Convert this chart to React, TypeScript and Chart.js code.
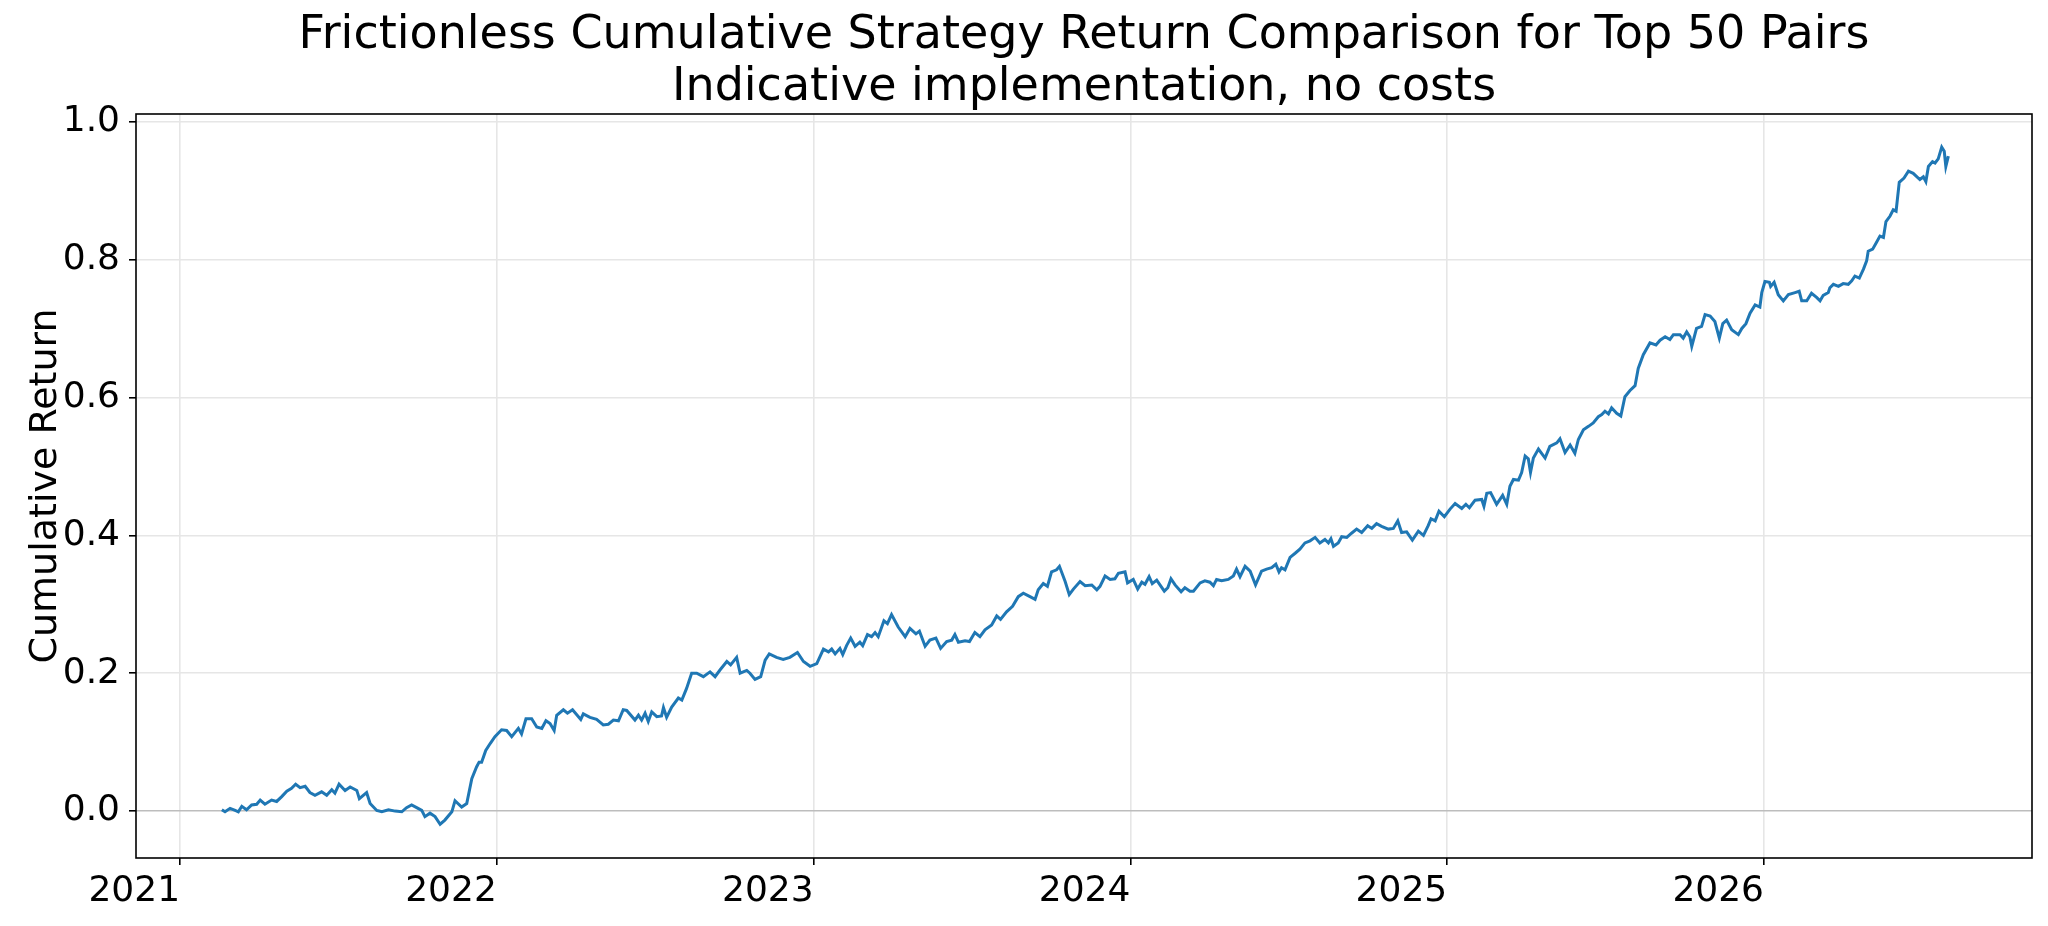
import React, { useEffect, useRef } from "react";
import { Chart, registerables } from "chart.js";

Chart.register(...registerables);

const titleLines = [
  "Frictionless Cumulative Strategy Return Comparison for Top 50 Pairs",
  "Indicative implementation, no costs",
];
const yAxisLabel = "Cumulative Return";

const yearTicks = [2021, 2022, 2023, 2024, 2025, 2026];
const returnTicks = [0, 0.2, 0.4, 0.6, 0.8, 1.0];
const xRange = [2020.861, 2026.846];
const yRange = [-0.068, 1.011];

// decimal year of each observation
const dates = [
  2021.132, 2021.142, 2021.158, 2021.174, 2021.184, 2021.195, 2021.21, 2021.226, 2021.242, 2021.253,
  2021.268, 2021.289, 2021.305, 2021.321, 2021.337, 2021.352, 2021.365, 2021.379, 2021.395, 2021.41,
  2021.426, 2021.447, 2021.463, 2021.479, 2021.489, 2021.502, 2021.521, 2021.537, 2021.558, 2021.566,
  2021.589, 2021.6, 2021.621, 2021.637, 2021.658, 2021.679, 2021.7, 2021.715, 2021.731, 2021.747,
  2021.763, 2021.773, 2021.789, 2021.805, 2021.821, 2021.836, 2021.858, 2021.868, 2021.889, 2021.905,
  2021.921, 2021.936, 2021.944, 2021.952, 2021.965,
  2021.979, 2021.994, 2022.015, 2022.031, 2022.047, 2022.068, 2022.078, 2022.092, 2022.11, 2022.126,
  2022.142, 2022.155, 2022.168, 2022.181, 2022.189, 2022.21, 2022.223, 2022.239, 2022.265, 2022.273,
  2022.294, 2022.315, 2022.336, 2022.352, 2022.368, 2022.384, 2022.399, 2022.41, 2022.436, 2022.447,
  2022.457, 2022.468, 2022.478, 2022.489, 2022.505, 2022.52, 2022.526, 2022.536, 2022.552, 2022.573,
  2022.584, 2022.599, 2022.615, 2022.631, 2022.652, 2022.673, 2022.689, 2022.705, 2022.726, 2022.738,
  2022.757, 2022.768, 2022.789, 2022.799, 2022.815, 2022.833, 2022.847, 2022.86, 2022.883, 2022.904,
  2022.925, 2022.949, 2022.968, 2022.989,
  2023.01, 2023.031, 2023.047, 2023.057, 2023.068, 2023.083, 2023.092, 2023.104, 2023.117, 2023.131,
  2023.146, 2023.155, 2023.17, 2023.183, 2023.194, 2023.204, 2023.222, 2023.233, 2023.246, 2023.267,
  2023.289, 2023.304, 2023.323, 2023.334, 2023.352, 2023.367, 2023.386, 2023.401, 2023.42, 2023.436,
  2023.446, 2023.457, 2023.478, 2023.492, 2023.509, 2023.525, 2023.541, 2023.562, 2023.578, 2023.59,
  2023.609, 2023.628, 2023.646, 2023.662, 2023.683, 2023.699, 2023.709, 2023.725, 2023.738, 2023.751,
  2023.767, 2023.776, 2023.794, 2023.807, 2023.82, 2023.841, 2023.857, 2023.878, 2023.894, 2023.904,
  2023.92, 2023.936, 2023.951, 2023.962, 2023.983,
  2023.991, 2024.009, 2024.023, 2024.036, 2024.046, 2024.059, 2024.069, 2024.083, 2024.107, 2024.118,
  2024.128, 2024.141, 2024.16, 2024.172, 2024.188, 2024.199, 2024.22, 2024.235, 2024.251, 2024.262,
  2024.272, 2024.288, 2024.309, 2024.325, 2024.335, 2024.346, 2024.362, 2024.378, 2024.395, 2024.414,
  2024.43, 2024.446, 2024.459, 2024.469, 2024.477, 2024.488, 2024.504, 2024.52, 2024.535, 2024.551,
  2024.567, 2024.583, 2024.598, 2024.614, 2024.625, 2024.633, 2024.641, 2024.656, 2024.667, 2024.683,
  2024.698, 2024.714, 2024.73, 2024.749, 2024.762, 2024.777, 2024.793, 2024.814, 2024.83, 2024.844,
  2024.856, 2024.872, 2024.89, 2024.909, 2024.925, 2024.94, 2024.949, 2024.962, 2024.974, 2024.991,
  2025.009, 2025.025, 2025.046, 2025.059, 2025.07, 2025.088, 2025.109, 2025.116, 2025.125, 2025.137,
  2025.156, 2025.175, 2025.188, 2025.198, 2025.209, 2025.225, 2025.235, 2025.246, 2025.256, 2025.263,
  2025.272, 2025.288, 2025.309, 2025.324, 2025.346, 2025.356, 2025.372, 2025.388, 2025.403, 2025.414,
  2025.43, 2025.446, 2025.461, 2025.477, 2025.488, 2025.498, 2025.509, 2025.519, 2025.535, 2025.548,
  2025.561, 2025.577, 2025.593, 2025.603, 2025.619, 2025.64, 2025.659, 2025.672, 2025.688, 2025.703,
  2025.714, 2025.735, 2025.745, 2025.756, 2025.766, 2025.772, 2025.787, 2025.803, 2025.814, 2025.83,
  2025.845, 2025.859, 2025.87, 2025.882, 2025.898, 2025.919, 2025.93, 2025.943, 2025.956, 2025.972,
  2025.987,
  2025.993, 2026.003, 2026.017, 2026.021, 2026.032, 2026.045, 2026.061, 2026.077, 2026.098, 2026.111,
  2026.119, 2026.135, 2026.15, 2026.166, 2026.177, 2026.187, 2026.203, 2026.208, 2026.219, 2026.235,
  2026.25, 2026.266, 2026.277, 2026.287, 2026.301, 2026.314, 2026.324, 2026.329, 2026.343, 2026.354,
  2026.366, 2026.377, 2026.385, 2026.398, 2026.408, 2026.417, 2026.421, 2026.427, 2026.442, 2026.456,
  2026.471, 2026.492, 2026.503, 2026.511, 2026.519, 2026.532, 2026.54, 2026.55, 2026.561, 2026.569,
  2026.574, 2026.582,
];

const cumulativeReturn = [
  0.002, -0.001, 0.004, 0.001, -0.001, 0.007, 0.002, 0.009, 0.01, 0.016,
  0.01, 0.016, 0.014, 0.021, 0.029, 0.033, 0.039, 0.034, 0.036, 0.027,
  0.023, 0.028, 0.023, 0.031, 0.026, 0.039, 0.03, 0.035, 0.03, 0.018,
  0.027, 0.011, 0.001, -0.001, 0.002, 0.0, -0.001, 0.005, 0.009, 0.005,
  0.001, -0.008, -0.003, -0.008, -0.019, -0.013, -0.001, 0.015, 0.006, 0.011,
  0.047, 0.064, 0.071, 0.071, 0.088,
  0.098, 0.108, 0.118, 0.117, 0.108, 0.12, 0.112, 0.134, 0.134, 0.122,
  0.12, 0.131, 0.127, 0.117, 0.139, 0.147, 0.142, 0.147, 0.133, 0.141,
  0.136, 0.133, 0.125, 0.126, 0.132, 0.131, 0.147, 0.146, 0.132, 0.139,
  0.132, 0.142, 0.13, 0.144, 0.137, 0.138, 0.15, 0.136, 0.151, 0.164,
  0.161, 0.178, 0.2, 0.2, 0.195, 0.202, 0.195, 0.205, 0.217, 0.212,
  0.223, 0.2, 0.204, 0.2, 0.191, 0.195, 0.219, 0.228, 0.223, 0.22,
  0.223, 0.23, 0.217, 0.21,
  0.214, 0.235, 0.231, 0.235, 0.228, 0.236, 0.227, 0.24, 0.251, 0.239,
  0.245, 0.24, 0.256, 0.253, 0.259, 0.253, 0.276, 0.272, 0.285, 0.267,
  0.253, 0.265, 0.257, 0.261, 0.239, 0.248, 0.251, 0.236, 0.246, 0.248,
  0.256, 0.245, 0.247, 0.246, 0.259, 0.253, 0.263, 0.27, 0.283, 0.278,
  0.289, 0.297, 0.311, 0.316, 0.311, 0.307, 0.321, 0.33, 0.326, 0.347,
  0.35, 0.355, 0.333, 0.314, 0.322, 0.333, 0.327, 0.328, 0.321, 0.326,
  0.341, 0.336, 0.337, 0.345, 0.347,
  0.331, 0.336, 0.322, 0.332, 0.329, 0.34, 0.33, 0.335, 0.319, 0.324,
  0.337, 0.328, 0.318, 0.324, 0.319, 0.319, 0.331, 0.334, 0.332, 0.327,
  0.336, 0.334, 0.336, 0.341, 0.351, 0.34, 0.355, 0.348, 0.328, 0.348,
  0.351, 0.353, 0.358, 0.347, 0.353, 0.35, 0.368, 0.374, 0.38, 0.389,
  0.392, 0.397, 0.389, 0.394, 0.389, 0.395, 0.384, 0.389, 0.398, 0.397,
  0.403, 0.409, 0.404, 0.414, 0.41, 0.417, 0.413, 0.409, 0.41, 0.421,
  0.404, 0.405, 0.393, 0.406, 0.4, 0.414, 0.424, 0.421, 0.435, 0.427,
  0.438, 0.446, 0.439, 0.445, 0.44, 0.451, 0.452, 0.442, 0.461, 0.462,
  0.445, 0.458, 0.445, 0.471, 0.481, 0.48, 0.491, 0.515, 0.511, 0.491,
  0.512, 0.525, 0.512, 0.529, 0.534, 0.54, 0.52, 0.531, 0.519, 0.539,
  0.553, 0.558, 0.563, 0.572, 0.575, 0.58, 0.576, 0.585, 0.577, 0.573,
  0.601, 0.61, 0.617, 0.642, 0.662, 0.679, 0.676, 0.683, 0.688, 0.684,
  0.691, 0.691, 0.686, 0.695, 0.688, 0.674, 0.7, 0.703, 0.72, 0.718,
  0.71, 0.686, 0.707, 0.712, 0.698, 0.691, 0.7, 0.707, 0.722, 0.734,
  0.731,
  0.752, 0.768, 0.767, 0.761, 0.767, 0.749, 0.74, 0.749, 0.752, 0.754,
  0.74, 0.74, 0.751, 0.745, 0.74, 0.748, 0.752, 0.759, 0.764, 0.761,
  0.765, 0.764, 0.769, 0.776, 0.773, 0.786, 0.798, 0.812, 0.815, 0.824,
  0.834, 0.832, 0.855, 0.863, 0.872, 0.87, 0.887, 0.912, 0.918, 0.928,
  0.925, 0.916, 0.92, 0.913, 0.935, 0.942, 0.94, 0.946, 0.963, 0.957,
  0.935, 0.95,
];

const FONT = "'DejaVu Sans', 'Liberation Sans', sans-serif";
const GRID = "#e6e6e6";
const ZERO_LINE = "#bdbdbd";

export default function App() {
  const canvasRef = useRef<HTMLCanvasElement>(null);

  useEffect(() => {
    document.body.style.margin = "0";
    if (!canvasRef.current) return;

    const chart = new Chart(canvasRef.current, {
      type: "line",
      data: {
        datasets: [
          {
            data: dates.map((d, i) => ({ x: d, y: cumulativeReturn[i] })),
            borderColor: "#1f77b4",
            borderWidth: 3,
            pointRadius: 0,
            tension: 0,
            fill: false,
          },
        ],
      },
      options: {
        animation: false,
        responsive: true,
        maintainAspectRatio: false,
        layout: { padding: { left: 0, right: 16, top: 0, bottom: 0 } },
        plugins: {
          legend: { display: false },
          tooltip: { enabled: false },
          title: {
            display: true,
            fullSize: false,
            text: titleLines,
            color: "#000",
            font: { family: FONT, size: 46, weight: "normal", lineHeight: "52px" },
            padding: { top: 10, bottom: 0 },
          },
        },
        scales: {
          x: {
            type: "linear",
            min: xRange[0],
            max: xRange[1],
            afterBuildTicks: (scale) => {
              scale.ticks = yearTicks.map((v) => ({ value: v }));
            },
            afterFit: (scale) => {
              scale.height = 68;
            },
            ticks: {
              align: "end",
              autoSkip: false,
              maxRotation: 0,
              padding: 5,
              color: "#000",
              font: { family: FONT, size: 36 },
              callback: (v) => String(v),
            },
            grid: {
              color: GRID,
              lineWidth: 1.6,
              tickColor: "#000",
              tickWidth: 1.6,
              tickLength: 7,
            },
            border: { display: false },
          },
          y: {
            type: "linear",
            min: yRange[0],
            max: yRange[1],
            afterBuildTicks: (scale) => {
              scale.ticks = returnTicks.map((v) => ({ value: v }));
            },
            afterFit: (scale) => {
              scale.width = 136;
            },
            ticks: {
              padding: 9,
              color: "#000",
              font: { family: FONT, size: 36 },
              callback: (v) => Number(v).toFixed(1),
            },
            grid: {
              color: (ctx) => (ctx.tick && ctx.tick.value === 0 ? ZERO_LINE : GRID),
              lineWidth: 1.6,
              tickColor: "#000",
              tickWidth: 1.6,
              tickLength: 7,
            },
            border: { display: false },
            title: {
              display: true,
              text: yAxisLabel,
              color: "#000",
              font: { family: FONT, size: 38 },
              padding: { top: 23, bottom: 0 },
            },
          },
        },
      },
      plugins: [
        {
          id: "axesFrame",
          afterDraw: (c) => {
            const { left, right, top, bottom } = c.chartArea;
            const ctx = c.ctx;
            ctx.save();
            ctx.strokeStyle = "#000";
            ctx.lineWidth = 1.6;
            ctx.strokeRect(left, top, right - left, bottom - top);
            ctx.restore();
          },
        },
      ],
    });

    return () => {
      chart.destroy();
    };
  }, []);

  return (
    <div style={{ position: "relative", width: 2048, height: 926, background: "#fff" }}>
      <canvas ref={canvasRef} />
    </div>
  );
}
